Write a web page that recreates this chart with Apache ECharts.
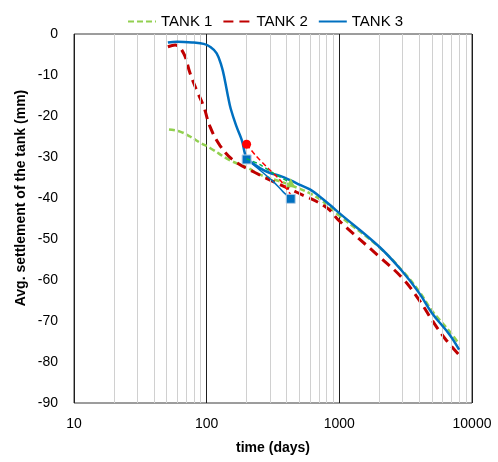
<!DOCTYPE html>
<html>
<head>
<meta charset="utf-8">
<script src="https://cdn.jsdelivr.net/npm/echarts@6/dist/echarts.min.js"></script>
<style>
  html, body { margin: 0; padding: 0; background: #fff; }
  #chart { width: 498px; height: 462px; }
</style>
</head>
<body>
<div id="chart"></div>
<script>
// Average settlement (mm) of three tanks versus time (days), log time axis

// TANK 1 – main curve
const tank1Days = [52, 63, 75, 89, 106, 150, 200, 252, 424, 675, 1000, 2000, 3000, 4000, 5000, 6800, 8000];
const tank1Vals = [-23.3, -23.8, -25.0, -26.5, -27.8, -30.8, -32.5, -34.3, -36.8, -39.8, -44.3, -52.0, -57.8, -62.8, -67.5, -72.6, -75.6];

// TANK 2 – main curve
const tank2Days = [51, 58, 67, 75, 84, 95, 106, 126, 159, 225, 318, 477, 800, 1000, 2000, 3000, 4000, 5000, 6230, 8000];
const tank2Vals = [-3.1, -2.7, -4.7, -9.6, -13.7, -17.7, -22.6, -27.2, -30.8, -33.6, -36.0, -38.6, -42.3, -45.6, -54.3, -59.6, -64.9, -69.8, -74.2, -78.3];

// TANK 3 – main curve
const tank3Days = [51, 60, 80, 95, 106, 119, 130, 137, 145, 152, 168, 184, 194, 200, 252, 300, 357, 430, 505, 600, 714, 850, 1000, 2000, 3000, 4000, 5000, 6800, 8000];
const tank3Vals = [-2.1, -1.9, -2.1, -2.4, -3.1, -4.7, -8.0, -11.2, -15.3, -18.3, -22.6, -25.9, -29.1, -30.3, -32.7, -33.9, -34.6, -35.7, -36.8, -37.9, -39.7, -41.7, -43.7, -51.9, -58.0, -63.2, -68.1, -73.4, -77.0];

// Short branches between the two marked dates
const tank1BranchDays = [200, 250, 320, 430];
const tank1BranchVals = [-30.4, -31.8, -34.0, -36.3];
const tank2BranchDays = [200, 232, 283, 357, 430];
const tank2BranchVals = [-26.9, -29.5, -32.4, -35.6, -39.2];
const tank3BranchDays = [200, 252, 318, 377, 430];
const tank3BranchVals = [-30.6, -33.2, -36.0, -38.5, -40.2];

// Axis ticks
const xMin = 10, xMax = 10000;
const yMin = -90, yMax = 0, yStep = 10;
const minorDays = [20, 30, 40, 50, 60, 70, 80, 90,
                   200, 300, 400, 500, 600, 700, 800, 900,
                   2000, 3000, 4000, 5000, 6000, 7000, 8000, 9000];

const pairs = (xs, ys) => xs.map((x, i) => [x, ys[i]]);

const GREEN = '#92D050', RED = '#C00000', BLUE = '#0070C0';
const FONT = 'Liberation Sans';

const chart = echarts.init(document.getElementById('chart'), null, { renderer: 'canvas' });

chart.setOption({
  animation: false,
  backgroundColor: '#fff',
  textStyle: { fontFamily: FONT, color: '#000' },
  legend: {
    data: ['TANK 1', 'TANK 2', 'TANK 3'],
    top: 9,
    left: 122,
    itemWidth: 28,
    itemHeight: 10,
    itemGap: 10,
    itemStyle: { opacity: 0 },
    textStyle: { fontFamily: FONT, fontSize: 15, color: '#000' }
  },
  grid: {
    left: 74, right: 26, top: 34, bottom: 59,
    show: true, borderColor: '#3a3a3a', borderWidth: 1, backgroundColor: 'transparent'
  },
  xAxis: {
    type: 'log',
    logBase: 10,
    min: xMin,
    max: xMax,
    name: 'time (days)',
    nameLocation: 'middle',
    nameGap: 38,
    nameTextStyle: { fontFamily: FONT, fontSize: 14, fontWeight: 'bold', color: '#000' },
    axisLine: { show: false },
    axisTick: { show: false },
    axisLabel: { fontFamily: FONT, fontSize: 14, color: '#000', margin: 14, formatter: v => String(Math.round(v)) },
    splitLine: { show: true, lineStyle: { color: '#1e1e1e', width: 1 } }
  },
  yAxis: {
    type: 'value',
    min: yMin,
    max: yMax,
    interval: yStep,
    axisLine: { show: false },
    axisTick: { show: false },
    axisLabel: { fontFamily: FONT, fontSize: 14, color: '#000', margin: 16 },
    splitLine: { show: false }
  },
  graphic: [{
    type: 'text',
    x: 21,
    y: 198,
    rotation: Math.PI / 2,
    style: {
      text: 'Avg. settlement of the tank (mm)',
      fontFamily: FONT,
      fontSize: 14,
      fontWeight: 'bold',
      fill: '#000',
      textAlign: 'center',
      textVerticalAlign: 'middle'
    }
  }],
  series: [
    {
      // minor vertical gridlines for the log axis
      name: 'grid',
      type: 'line',
      data: [],
      z: 1,
      silent: true,
      markLine: {
        silent: true,
        symbol: 'none',
        label: { show: false },
        lineStyle: { color: '#d0d0d0', width: 1, type: 'solid' },
        data: minorDays.map(d => ({ xAxis: d }))
      }
    },
    {
      name: 'TANK 1',
      type: 'line',
      data: pairs(tank1Days, tank1Vals),
      smooth: 0.4,
      symbol: 'none',
      z: 3,
      lineStyle: { color: GREEN, width: 2.5, type: [6, 3] },
      itemStyle: { color: GREEN }
    },
    {
      name: 'TANK 2',
      type: 'line',
      data: pairs(tank2Days, tank2Vals),
      smooth: 0.4,
      symbol: 'none',
      z: 4,
      lineStyle: { color: RED, width: 3, type: [10, 6] },
      itemStyle: { color: RED }
    },
    {
      name: 'TANK 3',
      type: 'line',
      data: pairs(tank3Days, tank3Vals),
      smooth: 0.4,
      symbol: 'none',
      z: 5,
      lineStyle: { color: BLUE, width: 2.5 },
      itemStyle: { color: BLUE }
    },
    {
      name: 'TANK 2 branch',
      type: 'line',
      data: pairs(tank2BranchDays, tank2BranchVals),
      smooth: 0.3,
      z: 6,
      symbol: (v, p) => p.dataIndex === 0 ? 'circle' : 'none',
      symbolSize: 9,
      lineStyle: { color: '#ff0000', width: 1.5, type: [5, 3] },
      itemStyle: { color: '#ff0000' }
    },
    {
      name: 'TANK 3 branch',
      type: 'line',
      data: pairs(tank3BranchDays, tank3BranchVals),
      smooth: 0.3,
      z: 7,
      symbol: (v, p) => (p.dataIndex === 0 || p.dataIndex === tank3BranchDays.length - 1) ? 'rect' : 'none',
      symbolSize: 9,
      lineStyle: { color: BLUE, width: 1.5 },
      itemStyle: { color: BLUE, borderColor: '#b8cfe6', borderWidth: 1 }
    },
    {
      name: 'TANK 1 branch',
      type: 'line',
      data: pairs(tank1BranchDays, tank1BranchVals),
      smooth: 0.3,
      z: 8,
      symbol: (v, p) => p.dataIndex === tank1BranchDays.length - 1 ? 'triangle' : 'none',
      symbolSize: 9,
      lineStyle: { color: '#00B050', width: 1.5, type: [4, 3] },
      itemStyle: { color: GREEN }
    }
  ]
});
</script>
</body>
</html>
